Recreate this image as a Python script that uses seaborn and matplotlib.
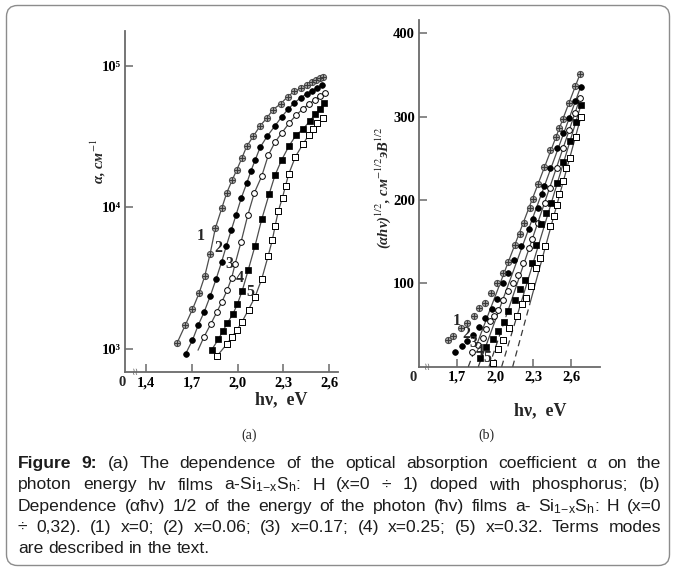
import matplotlib
matplotlib.use("Agg")
import matplotlib.pyplot as plt
import seaborn as sns
from matplotlib.patches import FancyBboxPatch
from matplotlib.transforms import IdentityTransform
from matplotlib.ticker import NullLocator

# ---------------- data : panel (a)  alpha (cm^-1) vs photon energy (eV) ----------------
a1_e = [1.605, 1.658, 1.704, 1.748, 1.785, 1.820, 1.854, 1.896, 1.929, 1.964, 1.995, 2.028, 2.060,
        2.104, 2.148, 2.191, 2.233, 2.283, 2.329, 2.372, 2.416, 2.454, 2.487, 2.515, 2.541, 2.563]
a1_alpha = [1110, 1480, 1900, 2480, 3270, 4680, 7100, 9830, 12650, 15530, 18420, 22270, 26980,
            31940, 37670, 42740, 49130, 54030, 60690, 66100, 69400, 73400, 76800, 79400, 81800, 83100]

a2_e = [1.659, 1.704, 1.743, 1.780, 1.822, 1.860, 1.896, 1.927, 1.959, 1.990, 2.025, 2.060, 2.089,
        2.115, 2.148, 2.195, 2.246, 2.290, 2.333, 2.372, 2.416, 2.454, 2.487, 2.519, 2.552]
a2_alpha = [920, 1150, 1480, 1810, 2380, 3130, 4130, 5360, 6920, 8830, 11690, 14780, 18240,
            21520, 26550, 31920, 37760, 43750, 49640, 54820, 59730, 63700, 67000, 69700, 73400]

a3_line_start_e = [1.741]
a3_line_start_alpha = [980]
a3_e = [1.780, 1.824, 1.864, 1.896, 1.933, 1.962, 1.984, 2.023, 2.067, 2.110, 2.159, 2.202, 2.246,
        2.290, 2.340, 2.384, 2.428, 2.471, 2.508, 2.541, 2.574]
a3_alpha = [1216, 1496, 1820, 2135, 2616, 3184, 3985, 5690, 8790, 12660, 16660, 23440, 28920,
            33590, 39630, 44900, 49640, 54030, 57700, 61240, 64400]

a4_e = [1.831, 1.874, 1.903, 1.933, 1.969, 1.999, 2.031, 2.071, 2.115, 2.159, 2.207, 2.246, 2.290,
        2.338, 2.384, 2.431, 2.475, 2.511, 2.541, 2.570]
a4_alpha = [988, 1167, 1331, 1524, 1755, 2074, 2582, 3640, 5356, 8265, 12390, 16910, 21730,
            27230, 32430, 35840, 41000, 45600, 49900, 54600]

a5_e = [1.864, 1.929, 1.962, 1.995, 2.028, 2.072, 2.115, 2.159, 2.200, 2.228, 2.247, 2.268, 2.295,
        2.315, 2.336, 2.380, 2.430, 2.467, 2.495, 2.523, 2.563]
a5_alpha = [887, 1079, 1208, 1356, 1541, 1897, 2332, 3126, 4508, 5861, 7430, 9480, 11750,
            14230, 17250, 22860, 28120, 32430, 35840, 39360, 43150]

a_labels = ["1", "2", "3", "4", "5"]
a_label_e = [1.759, 1.874, 1.946, 2.013, 2.082]
a_label_alpha = [6300, 5200, 3980, 3180, 2520]

a_xticks = [1.4, 1.7, 2.0, 2.3, 2.6]
a_xticklabels = ["1,4", "1,7", "2,0", "2,3", "2,6"]
a_yticks = [1e3, 1e4, 1e5]
a_yticklabels = ["10³", "10⁴", "10⁵"]

# ---------------- data : panel (b)  (alpha h nu)^1/2 vs photon energy ----------------
b1_e = [1.63, 1.67, 1.73, 1.78, 1.83, 1.875, 1.92, 1.965, 2.01, 2.06, 2.10, 2.155, 2.195, 2.226,
        2.274, 2.295, 2.339, 2.387, 2.432, 2.479, 2.505, 2.532, 2.584, 2.629, 2.668]
b1_v = [32, 37, 46, 53, 61, 71, 77, 88, 101, 113, 126, 146, 159, 173, 191, 201, 219, 240, 260, 276,
        287, 297, 317, 337, 351]

b2_e = [1.685, 1.735, 1.78, 1.826, 1.874, 1.92, 1.972, 2.016, 2.063, 2.103, 2.148, 2.205, 2.268,
        2.300, 2.333, 2.366, 2.387, 2.432, 2.485, 2.537, 2.584, 2.631, 2.674]
b2_v = [18, 25, 31, 38, 48, 58, 69, 81, 100, 113, 128, 145, 165, 177, 191, 207, 217, 238, 262, 280,
        299, 319, 336]

b3_e = [1.82, 1.86, 1.90, 1.93, 1.96, 1.99, 2.02, 2.06, 2.10, 2.14, 2.18, 2.22, 2.268, 2.287, 2.339,
        2.392, 2.432, 2.485, 2.537, 2.584, 2.629, 2.668]
b3_v = [18, 26, 34, 45, 55, 61, 68, 80, 91, 100, 110, 125, 143, 153, 172, 196, 215, 238, 263, 284,
        304, 322]

b4_e = [1.88, 1.93, 1.98, 2.024, 2.071, 2.103, 2.155, 2.195, 2.234, 2.287, 2.321, 2.361, 2.400,
        2.440, 2.485, 2.537, 2.587, 2.637, 2.676]
b4_v = [11, 24, 33, 43, 54, 67, 80, 93, 104, 125, 146, 171, 184, 196, 220, 246, 271, 294, 314]

b5_e = [1.984, 2.024, 2.063, 2.108, 2.169, 2.208, 2.242, 2.282, 2.318, 2.355, 2.392, 2.432, 2.466,
        2.485, 2.505, 2.532, 2.558, 2.590, 2.637, 2.676]
b5_v = [5, 21, 32, 47, 61, 75, 83, 97, 119, 131, 145, 169, 181, 194, 207, 223, 238, 251, 276, 300]

# straight-line fits: x-intercept, upper end, and level where the line turns dashed
b_fit_e0 = [1.787, 1.866, 1.950, 2.050, 2.137]
b_fit_e1 = [2.668, 2.674, 2.668, 2.676, 2.676]
b_fit_v1 = [351, 336, 322, 314, 300]
b_dash_v = [25, 30, 60, 62, 75]

b_labels = ["1", "2", "3", "4", "5"]
b_label_e = [1.695, 1.774, 1.826, 1.879, 1.937]
b_label_v = [55, 39, 29, 19, 10]

b_xticks = [1.7, 2.0, 2.3, 2.6]
b_xticklabels = ["1,7", "2,0", "2,3", "2,6"]
b_yticks = [100, 200, 300, 400]
b_yticklabels = ["100", "200", "300", "400"]

# ---------------- caption ----------------
SUB = r"$_{\mathrm{1\!-\!x}}$"
SH = r"$_{\mathrm{h}}$"
caption_lines = [
    [("Figure", "bold"), ("9:", "bold"), ("(a)", "normal"), ("The", "normal"), ("dependence", "normal"),
     ("of", "normal"), ("the", "normal"), ("optical", "normal"), ("absorption", "normal"),
     ("coefficient", "normal"), ("α", "normal"), ("on", "normal"), ("the", "normal")],
    [(w, "normal") for w in ["photon", "energy", "hv", "films", "a-Si" + SUB + "S" + SH + ":", "H",
                             "(x=0", "÷", "1)", "doped", "with", "phosphorus;", "(b)"]],
    [(w, "normal") for w in ["Dependence", "(αħv)", "1/2", "of", "the", "energy", "of", "the", "photon",
                             "(ħv)", "films", "a-", "Si" + SUB + "S" + SH + ":", "H", "(x=0"]],
    [(w, "normal") for w in ["÷", "0,32).", "(1)", "x=0;", "(2)", "x=0.06;", "(3)", "x=0.17;", "(4)",
                             "x=0.25;", "(5)", "x=0.32.", "Terms", "modes"]],
    [(w, "normal") for w in ["are", "described", "in", "the", "text."]],
]

# ---------------- style ----------------
sns.set_theme(style="white")
plt.rcParams['font.family'] = ['Liberation Serif', 'DejaVu Serif']
plt.rcParams['mathtext.fontset'] = 'custom'
plt.rcParams['mathtext.rm'] = 'Liberation Sans'
plt.rcParams['mathtext.it'] = 'Liberation Sans:italic'
plt.rcParams['mathtext.bf'] = 'Liberation Sans:bold'

W, H = 676, 571
fig = plt.figure(figsize=(W / 100, H / 100), dpi=100)
fig.patch.set_facecolor('white')


def fx(x):
    return x / W


def fy(y):
    return 1 - y / H


AX_C = '#6a6a6a'
LINE_C = '#4d4d4d'
SERIF = ['Liberation Serif', 'DejaVu Serif']
TICK_FS = 10.5

border = FancyBboxPatch((6.5, 5.5), 663, 560, boxstyle="round,pad=0,rounding_size=11",
                        transform=IdentityTransform(), facecolor='none', edgecolor='#8c8c8c', lw=1.0)
fig.patches.append(border)

axA = fig.add_axes([fx(125), fy(372), (338 - 125) / W, (372 - 31) / H])
axB = fig.add_axes([fx(419), fy(366.7), (600 - 419) / W, (366.7 - 20) / H])


def style_axes(ax):
    ax.set_facecolor('none')
    ax.grid(False)
    for s in ['top', 'right']:
        ax.spines[s].set_visible(False)
    for s in ['left', 'bottom']:
        ax.spines[s].set_color(AX_C)
        ax.spines[s].set_linewidth(1.3)
    ax.tick_params(which='both', direction='in', length=6, width=1.1, color=AX_C, pad=3,
                   labelsize=TICK_FS, labelcolor='black', left=True, bottom=True)


def style_ticklabels(ax):
    for lab in ax.get_xticklabels() + ax.get_yticklabels():
        lab.set_fontweight('bold')
        lab.set_fontfamily(SERIF)
        lab.set_fontsize(TICK_FS)


def draw_markers(ax, e, v, kind):
    if kind == 1:
        sns.scatterplot(x=e, y=v, ax=ax, marker='o', s=20, color='#a0a0a0', edgecolor='#4a4a4a',
                        linewidth=0.7, zorder=4)
        sns.scatterplot(x=e, y=v, ax=ax, marker='+', s=14, color='#3a3a3a', linewidth=0.7, zorder=5)
    elif kind == 2:
        sns.scatterplot(x=e, y=v, ax=ax, marker='o', s=17, color='black', edgecolor='black',
                        linewidth=0.5, zorder=4)
    elif kind == 3:
        sns.scatterplot(x=e, y=v, ax=ax, marker='o', s=17, color='white', edgecolor='black',
                        linewidth=0.7, zorder=4)
    elif kind == 4:
        sns.scatterplot(x=e, y=v, ax=ax, marker='s', s=18, color='black', edgecolor='black',
                        linewidth=0.5, zorder=4)
    else:
        sns.scatterplot(x=e, y=v, ax=ax, marker='s', s=20, color='white', edgecolor='black',
                        linewidth=0.7, zorder=4)


# ---------------- panel (a) ----------------
style_axes(axA)
axA.set_yscale('log')
axA.set_xlim(1.262, 2.659)
axA.set_ylim(10 ** 2.837, 10 ** 5.247)

a_series = [(a1_e, a1_alpha), (a2_e, a2_alpha), (a3_e, a3_alpha), (a4_e, a4_alpha), (a5_e, a5_alpha)]
for i, (e, al) in enumerate(a_series):
    le, la = list(e), list(al)
    if i == 2:
        le = a3_line_start_e + le
        la = a3_line_start_alpha + la
    sns.lineplot(x=le, y=la, ax=axA, color=LINE_C, lw=0.9, sort=False, estimator=None, zorder=3)
    draw_markers(axA, e, al, i + 1)

for t, e, al in zip(a_labels, a_label_e, a_label_alpha):
    axA.text(e, al, t, fontsize=11.5, fontweight='bold', ha='center', va='center', family=SERIF,
             zorder=6)

axA.set_xticks(a_xticks)
axA.set_xticklabels(a_xticklabels)
axA.set_yticks(a_yticks)
axA.set_yticklabels(a_yticklabels)
axA.yaxis.set_minor_locator(NullLocator())
axA.set_xlabel('')
axA.set_ylabel('')
style_ticklabels(axA)

# ---------------- panel (b) ----------------
style_axes(axB)
axB.set_xlim(1.398, 2.826)
axB.set_ylim(0, 416)

for e0, e1, v1, vd in zip(b_fit_e0, b_fit_e1, b_fit_v1, b_dash_v):
    ed = e0 + (e1 - e0) * vd / v1
    sns.lineplot(x=[ed, e1], y=[vd, v1], ax=axB, color=LINE_C, lw=0.9, sort=False, estimator=None,
                 zorder=3)
    sns.lineplot(x=[e0, ed], y=[0, vd], ax=axB, color='#3a3a3a', lw=0.9, sort=False, estimator=None,
                 linestyle=(0, (5, 3.5)), zorder=3)

b_series = [(b1_e, b1_v), (b2_e, b2_v), (b3_e, b3_v), (b4_e, b4_v), (b5_e, b5_v)]
for i, (e, v) in enumerate(b_series):
    draw_markers(axB, e, v, i + 1)

for t, e, v in zip(b_labels, b_label_e, b_label_v):
    axB.text(e, v, t, fontsize=11.5, fontweight='bold', ha='center', va='center', family=SERIF,
             zorder=6)

axB.set_xticks(b_xticks)
axB.set_xticklabels(b_xticklabels)
axB.set_yticks(b_yticks)
axB.set_yticklabels(b_yticklabels)
axB.set_xlabel('')
axB.set_ylabel('')
style_ticklabels(axB)

# origin "0" labels and axis breaks
fig.text(fx(122), fy(383), "0", fontsize=TICK_FS, fontweight='bold', family=SERIF, ha='center',
         va='center')
fig.text(fx(413), fy(377.5), "0", fontsize=TICK_FS, fontweight='bold', family=SERIF, ha='center',
         va='center')
fig.text(fx(135), fy(372), "≀≀", fontsize=7, color=AX_C, family=['DejaVu Sans'], ha='center',
         va='center')
fig.text(fx(427), fy(366.7), "≀≀", fontsize=7, color=AX_C, family=['DejaVu Sans'], ha='center',
         va='center')

# axis titles
fig.text(fx(281), fy(399.5), "hν,  eV", fontsize=13, fontweight='bold', family=SERIF,
         ha='center', va='center')
fig.text(fx(540), fy(411), "hν,  eV", fontsize=13, fontweight='bold', family=SERIF,
         ha='center', va='center')
fig.text(fx(98), fy(161), "α, cм$^{-1}$", fontsize=10.5, fontweight='bold', style='italic',
         family=SERIF, rotation=90, ha='center', va='center', math_fontfamily='stix')
fig.text(fx(383), fy(188), "(αhν)$^{1/2}$, cм$^{-1/2}$эВ$^{1/2}$", fontsize=10.5, fontweight='bold',
         style='italic', family=SERIF, rotation=90, ha='center', va='center', math_fontfamily='stix')

fig.text(fx(249), fy(435), "(a)", fontsize=10, family=SERIF, ha='center', va='center')
fig.text(fx(486), fy(435), "(b)", fontsize=10, family=SERIF, ha='center', va='center')

# ---------------- justified caption ----------------
renderer = fig.canvas.get_renderer()
cap_x0, cap_x1 = 18, 661
baselines = [468, 489.5, 511, 532, 553]
CAP_FAMILY = ['Liberation Sans', 'DejaVu Sans']


def measure(words, fs):
    ws = []
    for w, wt in words:
        t = fig.text(0, 0, w, fontsize=fs, fontweight=wt, family=CAP_FAMILY, math_fontfamily='custom')
        ws.append(t.get_window_extent(renderer=renderer).width)
        t.remove()
    return ws


base_fs = 12.6
min_gap = 4.0
need = max(sum(measure(words, base_fs)) + min_gap * (len(words) - 1) for words in caption_lines[:-1])
CAP_FS = base_fs if need <= (cap_x1 - cap_x0) else base_fs * (cap_x1 - cap_x0) / need

for li, (words, yb) in enumerate(zip(caption_lines, baselines)):
    texts = []
    for w, wt in words:
        t = fig.text(0, fy(yb), w, fontsize=CAP_FS, fontweight=wt, family=CAP_FAMILY,
                     color='#1c1c1c', ha='left', va='baseline', math_fontfamily='custom')
        texts.append(t)
    widths = [t.get_window_extent(renderer=renderer).width for t in texts]
    if li < len(caption_lines) - 1:
        gap = (cap_x1 - cap_x0 - sum(widths)) / (len(texts) - 1)
    else:
        gap = CAP_FS * 100 / 72 * 0.278
    x = cap_x0
    for t, wd in zip(texts, widths):
        t.set_x(fx(x))
        x += wd + gap

fig.savefig("out.png", dpi=100, facecolor='white')
